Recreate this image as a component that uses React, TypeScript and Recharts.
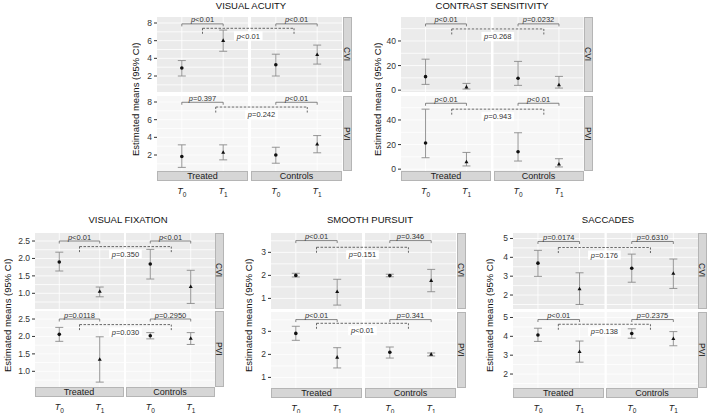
import {
  CartesianGrid,
  ComposedChart,
  ErrorBar,
  ReferenceArea,
  ReferenceDot,
  ReferenceLine,
  Scatter,
  XAxis,
  YAxis,
} from 'recharts'

const FONT = '"Liberation Sans", Arial, sans-serif'
const BG_CVI = '#ebebeb'
const BG_PVI = '#f6f6f6'
const STRIP_BG = '#d6d6d6'
const AXIS_W = 24
const TOP_PAD = 10
const BOT_PAD = 6
const STRIP_H = 10
const STRIP_W = 9

const groups = ['Treated', 'Controls']
const conditions = ['CVI', 'PVI']
const times = ['T0', 'T1']

// order: CVI Treated T0, T1, Controls T0, T1, then PVI the same
const vaMean = [2.9, 6.0, 3.27, 4.4, 1.83, 2.28, 2.0, 3.22]
const vaLow = [2.0, 4.8, 2.0, 3.35, 0.6, 1.45, 1.07, 2.25]
const vaHigh = [3.75, 7.2, 4.47, 5.5, 3.15, 3.15, 2.88, 4.2]
// per row: Treated, Controls, Treated vs Controls
const vaP = ['p<0.01', 'p<0.01', 'p<0.01', 'p=0.397', 'p<0.01', 'p=0.242']

const csMean = [11, 2.5, 9.7, 4.2, 21.3, 5.8, 14.1, 4.0]
const csLow = [4.7, 0.9, 3.9, 1.7, 9.3, 2.6, 6.6, 1.8]
const csHigh = [25.2, 5.5, 23.4, 11.2, 48.8, 13.6, 29.6, 8.5]
const csP = ['p<0.01', 'p=0.0232', 'p=0.268', 'p<0.01', 'p<0.01', 'p=0.943']

const vfMean = [1.9, 1.05, 1.84, 1.19, 2.06, 1.34, 2.02, 1.94]
const vfLow = [1.64, 0.9, 1.41, 0.71, 1.86, 0.69, 1.93, 1.77]
const vfHigh = [2.18, 1.18, 2.26, 1.66, 2.26, 1.99, 2.11, 2.11]
const vfP = ['p<0.01', 'p<0.01', 'p=0.350', 'p=0.0118', 'p=0.2950', 'p=0.030']

const spMean = [2.0, 1.29, 1.99, 1.77, 2.91, 1.87, 2.09, 2.0]
const spLow = [1.93, 0.71, 1.94, 1.29, 2.61, 1.41, 1.84, 1.93]
const spHigh = [2.09, 1.83, 2.05, 2.26, 3.22, 2.29, 2.32, 2.06]
const spP = ['p<0.01', 'p=0.346', 'p=0.151', 'p<0.01', 'p=0.341', 'p<0.01']

const saMean = [3.69, 2.32, 3.42, 3.14, 4.07, 3.18, 4.15, 3.87]
const saLow = [2.99, 1.5, 2.68, 2.35, 3.73, 2.63, 3.9, 3.5]
const saHigh = [4.37, 3.18, 4.17, 3.91, 4.43, 3.75, 4.4, 4.25]
const saP = ['p=0.0174', 'p=0.6310', 'p=0.176', 'p<0.01', 'p=0.2375', 'p=0.138']

type Panel = {
  title: string
  mean: number[]
  low: number[]
  high: number[]
  pv: string[]
  domain: [number, number]
  ticks: number[]
  minor: number[]
  fmt?: (v: number) => string
  solidY: number[]
  dashY: number[]
  dashX: number[][]
  left: number
  top: number
  fw: number
  gap: number
  rowH: number
  gapY: number
  titleX: number
  titleY: number
  axisX: number
}

const panels: Panel[] = [
  {
    title: 'VISUAL ACUITY', mean: vaMean, low: vaLow, high: vaHigh, pv: vaP,
    domain: [0.19, 8.68], ticks: [2, 4, 6, 8], minor: [1, 3, 5, 7],
    solidY: [7.9, 7.97], dashY: [7.4, 7.43], dashX: [[1.5, 1.44], [1.82, 1.76]],
    left: 157, top: 17, fw: 91, gap: 3, rowH: 75, gapY: 4, titleX: 251, titleY: 6, axisX: 136,
  },
  {
    title: 'CONTRAST SENSITIVITY', mean: csMean, low: csLow, high: csHigh, pv: csP,
    domain: [-1.5, 59.5], ticks: [0, 20, 40], minor: [10, 30, 50],
    solidY: [53.9, 53.6], dashY: [49.8, 48.8], dashX: [[1.64, 1.63], [1.64, 1.63]],
    left: 401, top: 17, fw: 90, gap: 2.5, rowH: 75, gapY: 4, titleX: 492, titleY: 6, axisX: 378,
  },
  {
    title: 'VISUAL FIXATION', mean: vfMean, low: vfLow, high: vfHigh, pv: vfP,
    domain: [0.55, 2.73], ticks: [1, 1.5, 2, 2.5], minor: [0.75, 1.25, 1.75, 2.25],
    fmt: (v) => v.toFixed(1),
    solidY: [2.5, 2.5], dashY: [2.34, 2.34], dashX: [[1.5, 1.52], [1.5, 1.52]],
    left: 34.5, top: 232.5, fw: 89, gap: 2, rowH: 76, gapY: 2.5, titleX: 128, titleY: 220, axisX: 8,
  },
  {
    title: 'SMOOTH PURSUIT', mean: spMean, low: spLow, high: spHigh, pv: spP,
    domain: [0.54, 3.84], ticks: [1, 2, 3], minor: [1.5, 2.5, 3.5],
    solidY: [3.51, 3.51], dashY: [3.22, 3.35], dashX: [[1.5, 1.45], [1.5, 1.45]],
    left: 271, top: 232.5, fw: 91, gap: 3, rowH: 76, gapY: 3, titleX: 370, titleY: 220, axisX: 249,
  },
  {
    title: 'SACCADES', mean: saMean, low: saLow, high: saHigh, pv: saP,
    domain: [1.26, 5.29], ticks: [2, 3, 4, 5], minor: [1.5, 2.5, 3.5, 4.5],
    solidY: [4.84, 4.89], dashY: [4.52, 4.64], dashX: [[1.49, 1.45], [1.49, 1.45]],
    left: 512.5, top: 232.5, fw: 91.5, gap: 2.3, rowH: 76, gapY: 3, titleX: 608, titleY: 220, axisX: 490,
  },
]

function PText({ x, y, text }: { x: number; y: number; text: string }) {
  return (
    <text x={x} y={y} textAnchor="middle" fontSize={7.5} fill="#333" fontFamily={FONT}>
      <tspan fontStyle="italic">{text[0]}</tspan>
      {text.slice(1)}
    </text>
  )
}

// label sitting just above a solid bracket
const solidLabel = (text: string) => (lp: any) => {
  const vb = lp.viewBox
  if (!vb) return null
  return <PText x={vb.x + (vb.width || 0) / 2} y={vb.y - 1.5} text={text} />
}

// boxed label just below the dashed Treated vs Controls bracket
const dashLabel = (text: string) => (lp: any) => {
  const vb = lp.viewBox
  if (!vb) return null
  const cx = vb.x + (vb.width || 0) / 2
  const cy = vb.y + 7.5
  const w = text.length * 4.1 + 4
  return (
    <g>
      <rect x={cx - w / 2} y={cy - 4.5} width={w} height={9} fill="#fff" />
      <PText x={cx} y={cy + 2.7} text={text} />
    </g>
  )
}

function TimeTick(props: any) {
  const { x, y, index } = props
  const t = times[index % 2]
  return (
    <text x={x} y={y + STRIP_H + 13} textAnchor="middle" fontSize={9} fill="#222" fontFamily={FONT}>
      <tspan fontStyle="italic">{t[0]}</tspan>
      <tspan fontSize={6.5} dy={2.5}>{t.slice(1)}</tspan>
    </text>
  )
}

const dot = (p: any) => <circle cx={p.cx} cy={p.cy} r={1.8} fill="#111" />
const tri = (p: any) => (
  <path d={`M${p.cx},${p.cy - 2.3}L${p.cx + 2},${p.cy + 1.3}L${p.cx - 2},${p.cy + 1.3}Z`} fill="#111" />
)

function FacetRow({ p, row }: { p: Panel; row: number }) {
  const unit = p.fw / 2.2
  const g = p.gap / unit
  const shift = 2.2 + g
  const plotW = 2 * p.fw + p.gap
  const last = row === 1
  const xH = last ? STRIP_H + 16 : 0
  const botPad = last ? 0 : BOT_PAD
  const pxPerY = p.rowH / (p.domain[1] - p.domain[0])
  const m = p.mean.slice(row * 4, row * 4 + 4)
  const lo = p.low.slice(row * 4, row * 4 + 4)
  const hi = p.high.slice(row * 4, row * 4 + 4)
  const pt = (i: number) => ({
    x: (i % 2) + 1 + (i >= 2 ? shift : 0),
    y: m[i],
    err: [m[i] - lo[i], hi[i] - m[i]],
  })
  const t0 = [pt(0), pt(2)]
  const t1 = [pt(1), pt(3)]
  const xTicks = [1, 2, 1 + shift, 2 + shift]
  const sy = p.solidY[row]
  const st = 2.5 / pxPerY
  const dy = p.dashY[row]
  const dt = 5.5 / pxPerY
  const dx1 = p.dashX[row][0]
  const dx2 = p.dashX[row][1] + shift
  const top = p.top + row * (p.rowH + p.gapY)
  const pv = p.pv.slice(row * 3, row * 3 + 3)
  const seg = (x1: number, y1: number, x2: number, y2: number) => [
    { x: x1, y: y1 },
    { x: x2, y: y2 },
  ]

  return (
    <div style={{ position: 'absolute', left: p.left - AXIS_W, top: top - TOP_PAD }}>
      <ComposedChart
        width={AXIS_W + plotW}
        height={p.rowH + xH + TOP_PAD + botPad}
        margin={{ top: TOP_PAD, right: 0, bottom: botPad, left: 0 }}
      >
        <CartesianGrid
          fill={row === 0 ? BG_CVI : BG_PVI}
          stroke="#fff"
          strokeWidth={0.8}
          horizontalValues={[...p.ticks, ...p.minor]}
          verticalValues={xTicks}
        />
        <XAxis
          dataKey="x"
          type="number"
          domain={[0.4, 4.8 + g]}
          allowDataOverflow
          hide={!last}
          height={xH}
          ticks={xTicks}
          interval={0}
          tickLine={false}
          axisLine={false}
          tickSize={0}
          tickMargin={0}
          tick={<TimeTick />}
        />
        <YAxis
          dataKey="y"
          type="number"
          domain={p.domain}
          allowDataOverflow
          ticks={p.ticks}
          interval={0}
          width={AXIS_W}
          tickSize={3}
          tickMargin={2}
          axisLine={false}
          tickLine={{ stroke: '#333' }}
          tick={{ fontSize: 8.5, fill: '#333', fontFamily: FONT }}
          tickFormatter={p.fmt}
        />
        <ReferenceArea x1={2.6} x2={2.6 + g} fill="#fff" fillOpacity={1} stroke="none" ifOverflow="visible" />
        {[0, 1].map((k) => {
          const off = k * shift
          return [
            <ReferenceLine key={`s${k}`} segment={seg(1 + off, sy, 2 + off, sy)} stroke="#666" strokeWidth={0.8} ifOverflow="visible" />,
            <ReferenceLine key={`a${k}`} segment={seg(1 + off, sy, 1 + off, sy - st)} stroke="#666" strokeWidth={0.8} ifOverflow="visible" />,
            <ReferenceLine key={`b${k}`} segment={seg(2 + off, sy, 2 + off, sy - st)} stroke="#666" strokeWidth={0.8} ifOverflow="visible" />,
            <ReferenceDot key={`l${k}`} x={1.5 + off} y={sy} r={0} fill="none" stroke="none" ifOverflow="visible" label={solidLabel(pv[k])} />,
          ]
        })}
        <ReferenceLine segment={seg(dx1, dy, dx2, dy)} stroke="#444" strokeWidth={0.8} strokeDasharray="2.5 1.5" ifOverflow="visible" />
        <ReferenceLine segment={seg(dx1, dy, dx1, dy - dt)} stroke="#444" strokeWidth={0.8} strokeDasharray="2 1.5" ifOverflow="visible" />
        <ReferenceLine segment={seg(dx2, dy, dx2, dy - dt)} stroke="#444" strokeWidth={0.8} strokeDasharray="2 1.5" ifOverflow="visible" />
        <Scatter data={t0} dataKey="y" shape={dot} isAnimationActive={false}>
          <ErrorBar dataKey="err" direction="y" width={4} stroke="#8a8a8a" strokeWidth={0.9} isAnimationActive={false} />
        </Scatter>
        <Scatter data={t1} dataKey="y" shape={tri} isAnimationActive={false}>
          <ErrorBar dataKey="err" direction="y" width={4} stroke="#8a8a8a" strokeWidth={0.9} isAnimationActive={false} />
        </Scatter>
        <ReferenceDot x={(dx1 + dx2) / 2} y={dy} r={0} fill="none" stroke="none" ifOverflow="visible" label={dashLabel(pv[2])} />
      </ComposedChart>
    </div>
  )
}

function PanelBlock({ p }: { p: Panel }) {
  const plotW = 2 * p.fw + p.gap
  const fullH = 2 * p.rowH + p.gapY
  return (
    <>
      <div
        style={{
          position: 'absolute', left: p.titleX - 100, top: p.titleY - 6, width: 200,
          textAlign: 'center', fontSize: 9.5, lineHeight: '12px', color: '#111',
        }}
      >
        {p.title}
      </div>
      <div
        style={{
          position: 'absolute', left: p.axisX - 6, top: p.top + fullH / 2 + STRIP_H / 2 - 75,
          width: 12, height: 150, writingMode: 'vertical-rl', transform: 'rotate(180deg)',
          textAlign: 'center', fontSize: 9.5, lineHeight: '12px', color: '#111',
        }}
      >
        Estimated means (95% CI)
      </div>
      {[0, 1].map((row) => (
        <FacetRow key={row} p={p} row={row} />
      ))}
      {conditions.map((c, row) => (
        <div
          key={c}
          style={{
            position: 'absolute', left: p.left + plotW + 0.5, top: p.top + row * (p.rowH + p.gapY),
            width: STRIP_W, height: p.rowH, background: STRIP_BG, boxSizing: 'border-box',
            border: '0.5px solid #b5b5b5', writingMode: 'vertical-rl', textAlign: 'center',
            fontSize: 8.5, lineHeight: `${STRIP_W - 1}px`, color: '#1a1a1a',
          }}
        >
          {c}
        </div>
      ))}
      {groups.map((gName, k) => (
        <div
          key={gName}
          style={{
            position: 'absolute', left: p.left + k * (p.fw + p.gap), top: p.top + fullH,
            width: p.fw, height: STRIP_H, background: STRIP_BG, boxSizing: 'border-box',
            border: '0.5px solid #b5b5b5', textAlign: 'center', fontSize: 9,
            lineHeight: `${STRIP_H - 1}px`, color: '#1a1a1a',
          }}
        >
          {gName}
        </div>
      ))}
    </>
  )
}

export default function App() {
  return (
    <div
      style={{
        position: 'absolute', left: 0, top: 0, width: 709, height: 413,
        background: '#fff', fontFamily: FONT, overflow: 'hidden',
      }}
    >
      {panels.map((p) => (
        <PanelBlock key={p.title} p={p} />
      ))}
    </div>
  )
}
